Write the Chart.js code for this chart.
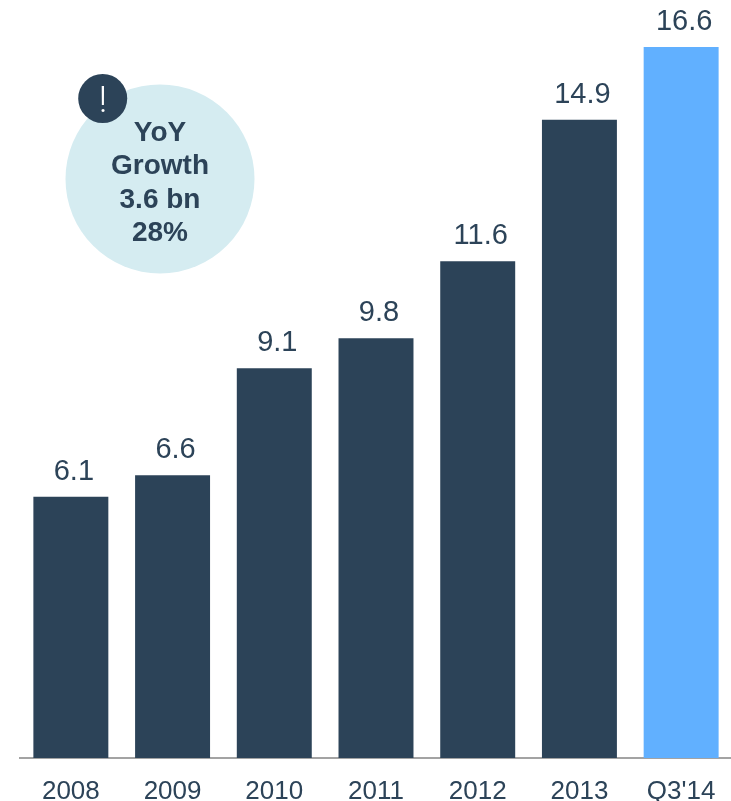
<!DOCTYPE html>
<html>
<head>
<meta charset="utf-8">
<script src="https://cdn.jsdelivr.net/npm/chart.js@4/dist/chart.umd.min.js"></script>
<style>
  html, body { margin: 0; padding: 0; background: #fff; overflow: hidden; }
  #wrap { width: 731px; height: 801px; position: relative; overflow: hidden; }
</style>
</head>
<body>
<div id="wrap"><canvas id="chart" width="733" height="801"></canvas></div>
<script>
const categories = ['2008', '2009', '2010', '2011', '2012', '2013', "Q3'14"];
const values = [6.1, 6.6, 9.1, 9.8, 11.6, 14.9, 16.6];
const barColors = ['#2c4358', '#2c4358', '#2c4358', '#2c4358', '#2c4358', '#2c4358', '#61b0ff'];
const calloutLines = ['YoY', 'Growth', '3.6 bn', '28%'];

const FONT = '"Liberation Sans", Arial, sans-serif';

// value labels above the bars, sitting slightly right of centre
const valueLabels = {
  id: 'valueLabels',
  afterDatasetsDraw(chart) {
    const { ctx } = chart;
    const meta = chart.getDatasetMeta(0);
    ctx.save();
    ctx.font = '29px ' + FONT;
    ctx.fillStyle = '#2c4358';
    ctx.textAlign = 'center';
    ctx.textBaseline = 'alphabetic';
    meta.data.forEach((bar, i) => {
      ctx.fillText(values[i].toFixed(1), bar.x + 3, bar.y - 17);
    });
    ctx.restore();
  }
};

// growth callout, circle plus the small badge
const callout = {
  id: 'callout',
  afterDraw(chart) {
    const { ctx } = chart;
    ctx.save();
    ctx.fillStyle = '#d5ecf1';
    ctx.beginPath();
    ctx.arc(160, 179, 94.5, 0, Math.PI * 2);
    ctx.fill();

    ctx.fillStyle = '#2c4358';
    ctx.beginPath();
    ctx.arc(102.7, 98.5, 24.5, 0, Math.PI * 2);
    ctx.fill();

    ctx.textAlign = 'center';
    ctx.textBaseline = 'alphabetic';
    ctx.font = 'bold 28px ' + FONT;
    calloutLines.forEach((line, i) => {
      ctx.fillText(line, 160, 141 + i * 33.3);
    });

    ctx.fillStyle = '#fff';
    ctx.font = '300 37px Roboto, ' + FONT;
    ctx.fillText('!', 103, 112);
    ctx.restore();
  }
};

new Chart(document.getElementById('chart'), {
  type: 'bar',
  data: {
    labels: categories,
    datasets: [{
      data: values,
      backgroundColor: barColors,
      borderWidth: 0,
      barPercentage: 0.737,
      categoryPercentage: 1
    }]
  },
  options: {
    responsive: false,
    animation: false,
    layout: { padding: { left: 20, right: 1, top: 47, bottom: 0 } },
    plugins: { legend: { display: false }, tooltip: { enabled: false } },
    scales: {
      x: {
        // fixed band under the axis so the baseline lands at y=758
        afterFit(scale) { scale.height = 43; },
        grid: { display: false },
        border: { color: '#a3a3a3', width: 2 },
        ticks: { color: '#2c4358', font: { family: FONT, size: 26 }, padding: 10, maxRotation: 0, autoSkip: false }
      },
      y: {
        display: false,
        min: 0,
        max: 16.6
      }
    }
  },
  plugins: [valueLabels, callout]
});
</script>
</body>
</html>
